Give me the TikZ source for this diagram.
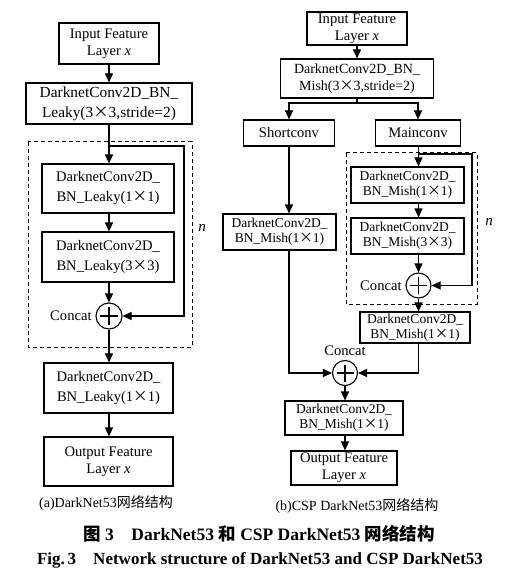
\documentclass[tikz,border=0pt]{standalone}
\usepackage{fontspec}
\setmainfont{Liberation Serif}
\newfontfamily\cjk{Noto Sans CJK SC}
\usetikzlibrary{arrows.meta}
\newcommand{\tm}{{\cjk ×}}

\begin{document}
\begin{tikzpicture}[x=1pt,y=-1pt,line width=1.1pt,
  blk/.style={draw,align=center,inner sep=0pt,font=\fontsize{14.6}{20}\selectfont},
  sml/.style={blk,font=\fontsize{13.5}{15}\selectfont},
  io/.style={blk,font=\fontsize{14.6}{17}\selectfont},
  arr/.style={-{Triangle[length=9pt,width=8pt]}},
  cat/.style={draw,circle,inner sep=0pt,minimum size=#1},
  grp/.style={dashed,dash pattern=on 4pt off 3pt,line width=1pt}]
\useasboundingbox (0,0) rectangle (508,580);
% (a) DarkNet53
\draw[grp] (28,142) rectangle (192,347);
\node[io,minimum width=100,minimum height=41] (inA) at (109,43.5) {Input Feature\\Layer \textit{x}};
\node[blk,font=\fontsize{15.4}{20}\selectfont,minimum width=166,minimum height=41] (cvA) at (109,103.5) {DarknetConv2D\_BN\_\\Leaky(3\tm3,stride=2)};
\node[blk,minimum width=132,minimum height=49] (lkA1) at (108,188.5) {DarknetConv2D\_\\BN\_Leaky(1\tm1)};
\node[blk,minimum width=132,minimum height=50] (lkA2) at (108,257) {DarknetConv2D\_\\BN\_Leaky(3\tm3)};
\node[cat=26] (catA) at (109,316) {};
\node[font=\fontsize{14.6}{17}\selectfont,anchor=east] (lblA) at (catA.west) {Concat};
\node[blk,minimum width=129,minimum height=50] (lkA3) at (108.5,388) {DarknetConv2D\_\\BN\_Leaky(1\tm1)};
\node[io,minimum width=129,minimum height=49] (outA) at (108.5,461.5) {Output Feature\\Layer \textit{x}};
\node[font=\fontsize{15}{17}\itshape] (nA) at (202,228) {n};
\node[font=\fontsize{14}{17}\selectfont] (capA) at (106,503) {(a)DarkNet53{\cjk 网络结构}};
\draw ([xshift=-9]catA.center) -- ([xshift=9]catA.center) ([yshift=-9]catA.center) -- ([yshift=9]catA.center);
\coordinate (fbA) at (184,146);
\draw[arr] (inA.south -| catA) -- (cvA.north -| catA);
\draw[arr] (cvA.south -| catA) -- (lkA1.north -| catA);
\draw[arr] (lkA1.south -| catA) -- (lkA2.north -| catA);
\draw[arr] (lkA2.south -| catA) -- (catA.north);
\draw[arr] (catA |- fbA) -- (fbA) |- (catA.east);
\draw[arr] (catA.south) -- (lkA3.north -| catA);
\draw[arr] (lkA3.south -| catA) -- (outA.north -| catA);
% (b) CSP DarkNet53
\draw[grp] (346,153) rectangle (477,304);
\node[io,minimum width=100,minimum height=33] (inB) at (357,28.5) {Input Feature\\Layer \textit{x}};
\node[sml,font=\fontsize{14}{17}\selectfont,minimum width=153,minimum height=39] (cvB) at (357,78.5) {DarknetConv2D\_BN\_\\Mish(3\tm3,stride=2)};
\node[io,minimum width=91,minimum height=26] (shB) at (289,133) {Shortconv};
\node[io,minimum width=85,minimum height=26] (mnB) at (418,133) {Mainconv};
\node[sml,minimum width=113,minimum height=36] (shB1) at (279.5,232) {DarknetConv2D\_\\BN\_Mish(1\tm1)};
\node[sml,minimum width=113,minimum height=36] (msB1) at (407.5,185) {DarknetConv2D\_\\BN\_Mish(1\tm1)};
\node[sml,minimum width=113,minimum height=36] (msB2) at (407.5,236) {DarknetConv2D\_\\BN\_Mish(3\tm3)};
\node[cat=25] (catB1) at (418.5,285.5) {};
\node[font=\fontsize{14.6}{17}\selectfont,anchor=east] (lblB1) at (catB1.west) {Concat};
\node[font=\fontsize{15}{17}\itshape] (nB) at (489,222) {n};
\node[sml,minimum width=110,minimum height=31] (msB3) at (415,327.5) {DarknetConv2D\_\\BN\_Mish(1\tm1)};
\node[cat=25] (catB2) at (345,373) {};
\node[font=\fontsize{14.6}{17}\selectfont,anchor=south] (lblB2) at (catB2.north) {Concat};
\node[sml,minimum width=118,minimum height=34] (msB4) at (344,418) {DarknetConv2D\_\\BN\_Mish(1\tm1)};
\node[io,minimum width=106,minimum height=34] (outB) at (344,468) {Output Feature\\Layer \textit{x}};
\node[font=\fontsize{14}{17}\selectfont] (capB) at (357,506) {(b)CSP DarkNet53{\cjk 网络结构}};
\foreach \c in {catB1,catB2}
  \draw ([xshift=-8.5]\c.center) -- ([xshift=8.5]\c.center) ([yshift=-8.5]\c.center) -- ([yshift=8.5]\c.center);
\coordinate (spB) at (357,103);
\coordinate (fbB) at (472,154);
\draw[arr] (inB) -- (cvB);
\draw (cvB.south -| spB) -- (spB);
\draw[arr] (spB) -| (shB.north);
\draw[arr] (spB) -| (mnB.north);
\draw[arr] (shB.south) -- (shB.south |- shB1.north);
\draw[arr] (shB.south |- shB1.south) |- (catB2.west);
\draw[arr] (mnB.south -| catB1) -- (msB1.north -| catB1);
\draw[arr] (catB1 |- fbB) -- (fbB) |- (catB1.east);
\draw[arr] (msB1.south -| catB1) -- (msB2.north -| catB1);
\draw[arr] (msB2.south -| catB1) -- (catB1.north);
\draw[arr] (catB1.south) -- (msB3.north -| catB1);
\draw[arr] (msB3.south -| catB1) |- (catB2.east);
\draw[arr] (catB2.south) -- (msB4.north -| catB2);
\draw[arr] (msB4.south -| catB2) -- (outB.north -| catB2);
% figure caption
\node[font=\fontsize{17.5}{20}\bfseries] (ttlCn) at (259,534) {{\cjk 图} 3\quad DarkNet53 {\cjk 和} CSP DarkNet53 {\cjk 网络结构}};
\node[font=\fontsize{17}{20}\bfseries] (ttlEn) at (260,560) {Fig.\,3\quad Network structure of DarkNet53 and CSP DarkNet53};
\end{tikzpicture}
\end{document}
